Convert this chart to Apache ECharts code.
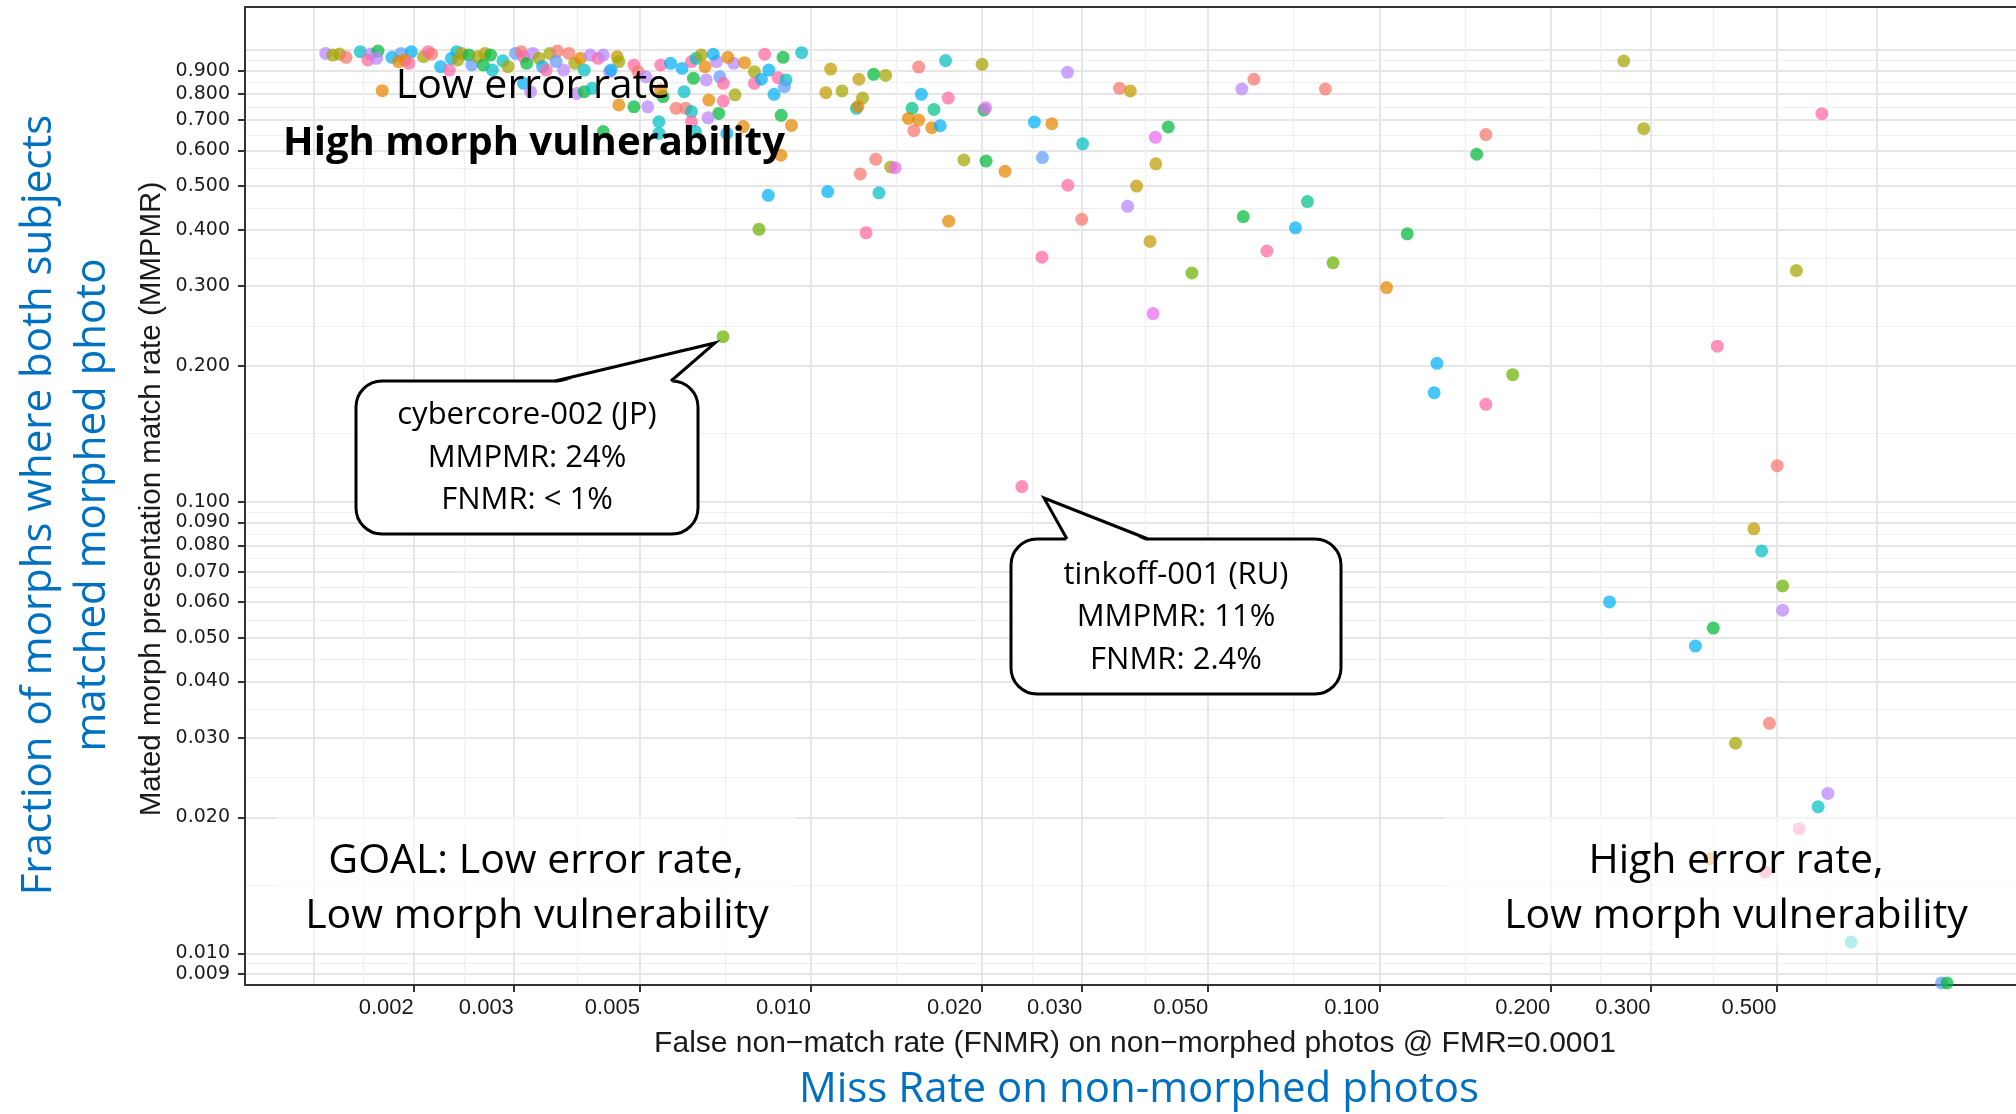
<!DOCTYPE html>
<html><head><meta charset="utf-8">
<script src="https://cdn.jsdelivr.net/npm/echarts@6/dist/echarts.min.js"></script>
<style>html,body{margin:0;padding:0;background:#fff}#c{width:2016px;height:1114px}</style>
</head><body><div id="c"></div>
<script>
// ---------- data ----------
const xTickLabels = [0.002,0.003,0.005,0.01,0.02,0.03,0.05,0.1,0.2,0.3,0.5];
const yTickLabels = [0.009,0.01,0.02,0.03,0.04,0.05,0.06,0.07,0.08,0.09,0.1,0.2,0.3,0.4,0.5,0.6,0.7,0.8,0.9];
const xGridBreaks = [0.001333,0.002,0.003,0.005,0.01,0.02,0.03,0.05,0.1,0.2,0.3,0.5,0.75];
const yGridBreaks = [0.009,0.01,0.02,0.03,0.04,0.05,0.06,0.07,0.08,0.09,0.1,0.2,0.3,0.4,0.5,0.6,0.7,0.8,0.9,1.0];
const xRange = [0.0010093, 1.3197];
const yRange = [0.0085085, 1.2458];

const fnmr = [
0.00140,0.00144,0.00148,0.00152,0.00161,0.00168,0.00166,0.00173,0.00172,0.00183,
0.00190,0.00198,0.00193,0.00188,0.00196,0.00208,0.00212,0.00215,0.00223,0.00231,
0.00238,0.00233,0.00239,0.00243,0.00250,0.00253,0.00259,0.00265,0.00267,0.00273,
0.00275,0.00287,0.00293,0.00302,0.00309,0.00312,0.00316,0.00324,0.00332,0.00337,
0.00342,0.00347,0.00358,0.00356,0.00367,0.00375,0.00384,0.00393,0.00399,0.00409,
0.00422,0.00431,0.00442,0.00456,0.00459,0.00445,0.00488,0.00496,0.00512,0.00544,
0.00566,0.00593,0.00616,0.00628,0.00641,0.00651,0.00682,0.00731,
0.00312,0.00321,0.00387,0.00399,0.00412,0.00459,0.00488,0.00516,0.00549,0.00544,
0.00579,0.00602,0.00598,0.00621,0.00616,0.00616,0.00540,0.00540,0.00626,0.00176,0.00431,
0.00654,0.00691,0.00701,0.00661,0.00701,0.00735,0.00688,0.00659,0.00795,0.00795,
0.00843,0.00818,0.00875,0.00904,0.00898,0.00861,0.00760,0.00711,
0.00963,0.00893,0.00829,0.00764,0.00714,0.00673,0.01083,0.01214,0.01289,0.01353,
0.01062,0.01134,0.01232,0.01202,0.01210,0.01547,0.01725,0.02000,0.01564,0.01744,
0.01506,0.01646,0.01484,0.01547,0.01517,0.01631,0.01688,0.02015,0.02030,0.02827,
0.03491,0.03647,0.06018,0.05731,0.08039,0.02472,0.02653,0.04253,0.04036,0.03006,
0.01300,0.01381,0.01406,0.01221,0.01858,0.02033,0.02195,0.02554,0.04044,0.02831,
0.03741,0.03607,0.02995,0.01747,0.01250,0.01070,0.01317,0.00841,0.00810,0.00886,
0.00924,0.00885,0.05763,0.07475,0.07120,0.06342,0.08290,0.03950,0.04681,0.02549,
0.1030,0.03999,
0.2693,0.2920,0.6010,0.1540,0.1484,0.1120,0.5419,0.3934,0.1263,0.1717,0.1249,0.1540,
0.5015,0.4562,0.4709,0.5127,0.5127,0.2542,0.3870,0.3600,0.4859,0.4236,0.6157,0.5920,
0.5480,0.3814,0.4778,0.6767,0.976,0.998,
0.0235,0.0070
];
const mmpmr = [
0.983,0.975,0.980,0.964,0.992,0.980,0.951,0.995,0.959,0.964,
0.983,0.992,0.951,0.943,0.935,0.967,0.992,0.980,0.919,0.903,
0.992,0.959,0.951,0.983,0.975,0.927,0.967,0.927,0.983,0.975,
0.903,0.947,0.919,0.983,0.992,0.967,0.935,0.983,0.959,0.919,
0.903,0.983,0.995,0.943,0.903,0.983,0.935,0.959,0.903,0.975,
0.959,0.975,0.896,0.967,0.943,0.903,0.927,0.896,0.873,0.927,
0.935,0.911,0.943,0.959,0.975,0.919,0.943,0.935,
0.844,0.809,0.802,0.809,0.823,0.756,0.749,0.749,0.789,0.816,
0.743,0.743,0.809,0.866,0.731,0.694,0.694,0.654,0.660,0.813,0.660,
0.859,0.873,0.844,0.775,0.771,0.796,0.724,0.708,0.896,0.844,
0.903,0.862,0.869,0.859,0.830,0.798,0.677,0.654,
0.987,0.964,0.979,0.938,0.964,0.979,0.908,0.862,0.884,0.879,
0.805,0.812,0.783,0.743,0.750,0.917,0.948,0.930,0.798,0.783,
0.743,0.739,0.706,0.700,0.663,0.673,0.680,0.737,0.745,0.893,
0.823,0.812,0.862,0.820,0.820,0.693,0.687,0.676,0.641,0.620,
0.573,0.551,0.549,0.532,0.571,0.568,0.539,0.578,0.560,0.502,
0.500,0.451,0.422,0.418,0.394,0.486,0.483,0.477,0.401,0.717,
0.681,0.585,0.428,0.462,0.404,0.359,0.338,0.377,0.321,0.348,
0.298,0.261,
0.946,0.670,0.723,0.650,0.588,0.392,0.325,0.221,0.2025,0.1911,0.1743,0.1643,
0.1202,0.0871,0.0778,0.0651,0.0575,0.0600,0.0525,0.0479,0.0323,0.0292,0.0226,0.0211,
0.01887,0.0162,0.01514,0.01059,0.0086,0.0086,
0.108,0.232
];
const developerGroup = [
10,3,3,0,7,10,12,5,10,8, 9,8,1,1,12,3,12,0,8,12, 7,8,3,2,5,9,3,5,2,5,
7,7,3,9,0,12,5,10,3,8, 12,3,0,9,10,0,3,1,7,10, 12,10,10,2,3,8,12,0,10,12,
8,8,12,7,3,1,10,10,
8,10,10,5,7,1,5,10,5,1,0,0,7,5,7,12,7,7,7,1,5,
10,9,12,1,12,3,5,10,3,12,8,8,12,7,9,8,1,8,
7,5,12,1,1,8,2,2,5,3,
2,3,3,7,1,0,7,3,8,12,
6,6,1,1,0,1,8,5,11,10,
0,2,0,10,0,8,1,5,11,7,
0,3,11,0,3,5,1,9,2,12,
2,10,0,1,12,8,7,8,4,5,
1,1,5,6,8,12,4,2,4,12,
1,11,
3,3,12,0,5,5,3,12,8,4,8,12,
0,2,7,4,10,8,5,8,0,3,10,7,12,1,12,7,9,5,
12,4
];
const palette = ['#F8766D','#E58700','#C09B00','#A3A500','#6BB100','#00BA38','#00C08B','#00BFC4','#00B0F6','#619CFF','#B983FF','#E76BF3','#FF67A4'];

// ---------- helpers ----------
const L = Math.log10;
const mids = arr => { const o = []; for (let i = 0; i < arr.length - 1; i++) o.push((L(arr[i]) + L(arr[i + 1])) / 2); return o; };
const labelFor = (arr) => (v) => { let best = arr[0]; for (const t of arr) if (Math.abs(L(t) - v) < Math.abs(L(best) - v)) best = t; return best.toFixed(3); };
const AX = '#333333';
const txt = '#1a1a1a';

function overlayX(extra) {
  return Object.assign({
    type: 'value', gridIndex: 0, min: L(xRange[0]), max: L(xRange[1]), position: 'bottom',
    axisLine: { show: false, onZero: false }, axisTick: { show: false }, axisLabel: { show: false },
    splitLine: { show: false }, splitArea: { show: false }
  }, extra);
}
function overlayY(extra) {
  return Object.assign({
    type: 'value', gridIndex: 0, min: L(yRange[0]), max: L(yRange[1]), position: 'left',
    axisLine: { show: false, onZero: false }, axisTick: { show: false }, axisLabel: { show: false },
    splitLine: { show: false }, splitArea: { show: false }
  }, extra);
}

const xAxes = [
  { type: 'log', logBase: 10, min: xRange[0], max: xRange[1], show: false, gridIndex: 0 },
  overlayX({ axisTick: { show: false, customValues: mids(xGridBreaks) }, splitLine: { show: true, lineStyle: { color: '#EFEFEF', width: 1.2 } } }),
  overlayX({ axisTick: { show: false, customValues: xGridBreaks.map(L) }, splitLine: { show: true, lineStyle: { color: '#E6E6E6', width: 2 } } }),
  overlayX({
    axisLine: { show: true, onZero: false, lineStyle: { color: AX, width: 2 } },
    axisTick: { show: true, customValues: xTickLabels.map(L), length: 7, lineStyle: { color: AX, width: 2 } },
    axisLabel: { show: true, customValues: xTickLabels.map(L), formatter: labelFor(xTickLabels), align: 'right', margin: 12,
      fontSize: 22, fontFamily: '"Liberation Sans", Arial, sans-serif', color: txt }
  }),
  overlayX({ position: 'top', axisLine: { show: true, onZero: false, lineStyle: { color: AX, width: 2 } } })
];
const yAxes = [
  { type: 'log', logBase: 10, min: yRange[0], max: yRange[1], show: false, gridIndex: 0 },
  overlayY({ axisTick: { show: false, customValues: mids(yGridBreaks) }, splitLine: { show: true, lineStyle: { color: '#EFEFEF', width: 1.2 } } }),
  overlayY({ axisTick: { show: false, customValues: yGridBreaks.map(L) }, splitLine: { show: true, lineStyle: { color: '#E6E6E6', width: 2 } } }),
  overlayY({
    axisLine: { show: true, onZero: false, lineStyle: { color: AX, width: 2 } },
    axisTick: { show: true, customValues: yTickLabels.map(L), length: 7, lineStyle: { color: AX, width: 2 } },
    axisLabel: { show: true, customValues: yTickLabels.map(L), formatter: labelFor(yTickLabels), margin: 15,
      fontSize: 19, fontFamily: '"DejaVu Sans", sans-serif', color: txt }
  })
];

const points = fnmr.map((f, i) => ({ value: [f, mmpmr[i]], itemStyle: { color: palette[developerGroup[i]] } }));

// ---------- annotation graphics ----------
const calibri = '"Open Sans", "Noto Sans", sans-serif';
function t(text, x, y, size, opts) {
  opts = opts || {};
  return {
    type: 'text', x: x, y: y, rotation: opts.rot || 0, z: opts.z || 30,
    style: { text: text, fontSize: size, fontFamily: opts.family || calibri, fontWeight: opts.weight || 'normal',
      fill: opts.color || '#000', align: 'center', verticalAlign: 'middle', textAlign: 'center', textVerticalAlign: 'middle' }
  };
}
function callout(bx, by, bw, bh, tail) {
  return [
    { type: 'rect', z: 20, shape: { x: bx, y: by, width: bw, height: bh, r: 26 }, style: { fill: '#fff', stroke: '#000', lineWidth: 3 } },
    { type: 'polygon', z: 21, shape: { points: [[tail[0], by + 2.5], tail[1], [tail[2], by + 2.5]] }, style: { fill: '#fff' } },
    { type: 'polyline', z: 22, shape: { points: [[tail[0], by], tail[1], [tail[2], by]] }, style: { stroke: '#000', lineWidth: 3, fill: null } }
  ];
}

const graphics = [].concat(
  [
    { type: 'rect', z: 15, shape: { x: 277, y: 817, width: 520, height: 134 }, style: { fill: 'rgba(255,255,255,0.6)' } },
    { type: 'rect', z: 15, shape: { x: 1444, y: 817, width: 572, height: 134 }, style: { fill: 'rgba(255,255,255,0.6)' } },
    t('Low error rate', 533, 86, 41),
    t('High morph vulnerability', 534, 144, 40, { weight: 'bold' }),
    t('GOAL: Low error rate,', 536, 861, 41),
    t('Low morph vulnerability', 537, 916, 41),
    t('High error rate,', 1736, 861, 41),
    t('Low morph vulnerability', 1736, 916, 41),
    t('False non\u2212match rate (FNMR) on non\u2212morphed photos @ FMR=0.0001', 1135, 1044, 30, { family: '"Liberation Sans", Arial, sans-serif', color: txt }),
    t('Mated morph presentation match rate (MMPMR)', 152, 499, 29.5, { family: '"Liberation Sans", Arial, sans-serif', color: txt, rot: Math.PI / 2 }),
    t('Miss Rate on non-morphed photos', 1139, 1090, 42, { color: '#0070C0' }),
    t('Fraction of morphs where both subjects', 39, 505, 42, { color: '#0070C0', rot: Math.PI / 2 }),
    t('matched morphed photo', 93, 505, 42, { color: '#0070C0', rot: Math.PI / 2 })
  ],
  callout(356, 381, 342, 153, [555, [715, 343], 671]),
  [t('cybercore-002 (JP)', 527, 415, 31, { z: 40 }), t('MMPMR: 24%', 527, 458, 31, { z: 40 }), t('FNMR: < 1%', 527, 500, 31, { z: 40 })],
  callout(1011, 539, 330, 155, [1067, [1044, 498], 1148]),
  [t('tinkoff-001 (RU)', 1176, 575, 31, { z: 40 }), t('MMPMR: 11%', 1176, 617, 31, { z: 40 }), t('FNMR: 2.4%', 1176, 660, 31, { z: 40 })]
);

const chart = echarts.init(document.getElementById('c'), null, { renderer: 'canvas', width: 2016, height: 1114 });
chart.setOption({
  animation: false,
  backgroundColor: '#ffffff',
  grid: { left: 245, right: 0, top: 7, bottom: 129, containLabel: false, outerBoundsMode: 'none' },
  xAxis: xAxes,
  yAxis: yAxes,
  series: [{
    type: 'scatter', xAxisIndex: 0, yAxisIndex: 0, symbol: 'circle', symbolSize: 13,
    itemStyle: { opacity: 0.72 }, data: points, clip: true, z: 5
  }],
  graphic: graphics
});
</script></body></html>
